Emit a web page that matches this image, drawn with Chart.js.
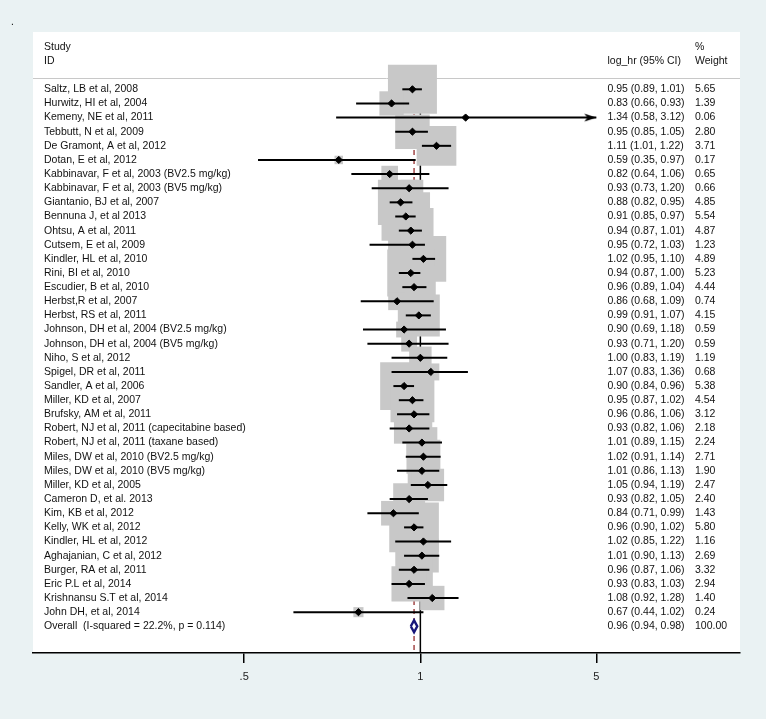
<!DOCTYPE html>
<html>
<head>
<meta charset="utf-8">
<title>Forest plot</title>
<script src="https://cdn.jsdelivr.net/npm/chart.js@4.4.1/dist/chart.umd.min.js"></script>
<style>
  html, body { margin: 0; padding: 0; overflow: hidden; background: #eaf2f3; }
  #wrap { position: relative; width: 766px; height: 719px; }
  #myChart { display: block; }
</style>
</head>
<body>
<div id="wrap"><canvas id="myChart"></canvas></div>
<script>
// STUDIES, top to bottom
const studies = [
  'Saltz, LB et al, 2008', 'Hurwitz, HI et al, 2004', 'Kemeny, NE et al, 2011',
  'Tebbutt, N et al, 2009', 'De Gramont, A et al, 2012', 'Dotan, E et al, 2012',
  'Kabbinavar, F et al, 2003 (BV2.5 mg/kg)', 'Kabbinavar, F et al, 2003 (BV5 mg/kg)',
  'Giantanio, BJ et al, 2007', 'Bennuna J, et al 2013', 'Ohtsu, A et al, 2011',
  'Cutsem, E et al, 2009', 'Kindler, HL et al, 2010', 'Rini, BI et al, 2010',
  'Escudier, B et al, 2010', 'Herbst,R et al, 2007', 'Herbst, RS et al, 2011',
  'Johnson, DH et al, 2004 (BV2.5 mg/kg)', 'Johnson, DH et al, 2004 (BV5 mg/kg)',
  'Niho, S et al, 2012', 'Spigel, DR et al, 2011', 'Sandler, A et al, 2006',
  'Miller, KD et al, 2007', 'Brufsky, AM et al, 2011',
  'Robert, NJ et al, 2011 (capecitabine based)', 'Robert, NJ et al, 2011 (taxane based)',
  'Miles, DW et al, 2010 (BV2.5 mg/kg)', 'Miles, DW et al, 2010 (BV5 mg/kg)',
  'Miller, KD et al, 2005', 'Cameron D, et al. 2013', 'Kim, KB et al, 2012',
  'Kelly, WK et al, 2012', 'Kindler, HL et al, 2012', 'Aghajanian, C et al, 2012',
  'Burger, RA et al, 2011', 'Eric P.L et al, 2014', 'Krishnansu S.T et al, 2014',
  'John DH, et al, 2014'
];
const hr = [0.95, 0.83, 1.34, 0.95, 1.11, 0.59, 0.82, 0.93, 0.88, 0.91, 0.94, 0.95, 1.02,
  0.94, 0.96, 0.86, 0.99, 0.90, 0.93, 1.00, 1.07, 0.90, 0.95, 0.96, 0.93, 1.01, 1.02, 1.01,
  1.05, 0.93, 0.84, 0.96, 1.02, 1.01, 0.96, 0.93, 1.08, 0.67];
const ciLow = [0.89, 0.66, 0.58, 0.85, 1.01, 0.35, 0.64, 0.73, 0.82, 0.85, 0.87, 0.72, 0.95,
  0.87, 0.89, 0.68, 0.91, 0.69, 0.71, 0.83, 0.83, 0.84, 0.87, 0.86, 0.82, 0.89, 0.91, 0.86,
  0.94, 0.82, 0.71, 0.90, 0.85, 0.90, 0.87, 0.83, 0.92, 0.44];
const ciHigh = [1.01, 0.93, 3.12, 1.05, 1.22, 0.97, 1.06, 1.20, 0.95, 0.97, 1.01, 1.03, 1.10,
  1.00, 1.04, 1.09, 1.07, 1.18, 1.20, 1.19, 1.36, 0.96, 1.02, 1.06, 1.06, 1.15, 1.14, 1.13,
  1.19, 1.05, 0.99, 1.02, 1.22, 1.13, 1.06, 1.03, 1.28, 1.02];
const weights = [5.65, 1.39, 0.06, 2.80, 3.71, 0.17, 0.65, 0.66, 4.85, 5.54, 4.87, 1.23, 4.89,
  5.23, 4.44, 0.74, 4.15, 0.59, 0.59, 1.19, 0.68, 5.38, 4.54, 3.12, 2.18, 2.24, 2.71, 1.90,
  2.47, 2.40, 1.43, 5.80, 1.16, 2.69, 3.32, 2.94, 1.40, 0.24];

// OVERALL
const overallLabel = 'Overall  (I-squared = 22.2%, p = 0.114)';
const overallHr = 0.96, overallLow = 0.94, overallHigh = 0.98, overallWeight = 100.00;

// X AXIS labels and where they sit on the hr scale
const tickLabels = ['.5', '1', '5'];
const tickAt = [0.32, 1, 3.12];

const FONT = '"Liberation Sans", Arial, sans-serif';
const ln = Math.log;
const nRows = studies.length;          // overall row index
const clipHigh = ln(tickAt[tickAt.length - 1]);
const rowTop = -0.8;                    // where the vertical lines start
const yMin = -4.055, yMax = 39.89;

// arrow head used when a CI runs past the axis, tip is at the image centre
const arrow = document.createElement('canvas');
arrow.width = 26; arrow.height = 11;
const actx = arrow.getContext('2d');
actx.fillStyle = '#000';
actx.beginPath();
actx.moveTo(13, 5.5); actx.lineTo(1, 1.5); actx.lineTo(4, 5.5); actx.lineTo(1, 9.5);
actx.closePath();
actx.fill();

const datasets = [];

// reference lines (null at 1, dashed at overall estimate)
datasets.push({
  type: 'line', order: 5, data: [{x: 0, y: rowTop}, {x: 0, y: yMax}],
  borderColor: '#000', borderWidth: 1.5, pointRadius: 0
});
datasets.push({
  type: 'line', order: 5, data: [{x: ln(overallHr), y: rowTop}, {x: ln(overallHr), y: yMax}],
  borderColor: '#8b1a1a', borderWidth: 1.2, borderDash: [5, 4], pointRadius: 0
});

// weight boxes (area ~ weight)
datasets.push({
  type: 'scatter', order: 4,
  data: hr.map((v, i) => ({x: ln(v), y: i})),
  pointStyle: 'rect',
  pointRadius: weights.map(w => 14.57 * Math.sqrt(w)),
  backgroundColor: '#c8c8c8', borderWidth: 0
});

// confidence intervals
hr.forEach((v, i) => {
  datasets.push({
    type: 'line', order: 3,
    data: [{x: ln(ciLow[i]), y: i}, {x: Math.min(ln(ciHigh[i]), clipHigh), y: i}],
    borderColor: '#000', borderWidth: 2, pointRadius: 0
  });
});

// arrows for clipped CIs
datasets.push({
  type: 'scatter', order: 2,
  data: hr.map((v, i) => ciHigh[i] >= tickAt[tickAt.length - 1] ? {x: clipHigh, y: i} : null)
    .filter(p => p),
  pointStyle: arrow, pointRadius: 6
});

// point estimates
datasets.push({
  type: 'scatter', order: 1,
  data: hr.map((v, i) => ({x: ln(v), y: i})),
  pointStyle: 'rectRot', pointRadius: 3.6,
  backgroundColor: '#000', borderColor: '#000', borderWidth: 1
});

// overall diamond
datasets.push({
  type: 'line', order: 0,
  data: [
    {x: ln(overallLow), y: nRows}, {x: ln(overallHr), y: nRows - 0.42},
    {x: ln(overallHigh), y: nRows}, {x: ln(overallHr), y: nRows + 0.42},
    {x: ln(overallLow), y: nRows}
  ],
  borderColor: '#16167a', borderWidth: 2.4, backgroundColor: '#fff',
  fill: 'shape', pointRadius: 0, tension: 0
});

//Text columns, header and white plot region.
const forestText = {
  id: 'forestText',
  beforeDraw(chart) {
    const ctx = chart.ctx, a = chart.chartArea;
    ctx.save();
    ctx.fillStyle = '#fff';
    ctx.fillRect(a.left, a.top, a.right - a.left, a.bottom - a.top);
    ctx.restore();
  },
  afterDatasetsDraw(chart) {
    const ctx = chart.ctx, a = chart.chartArea, y = chart.scales.y;
    ctx.save();
    ctx.fillStyle = '#000';
    ctx.font = '10px ' + FONT;
    ctx.textBaseline = 'middle';
    ctx.fillText('.', 11, 22);

    // separator under the header
    ctx.strokeStyle = '#c8c8c8';
    ctx.lineWidth = 1;
    ctx.beginPath();
    ctx.moveTo(a.left, Math.round(y.getPixelForValue(rowTop)) + 0.5);
    ctx.lineTo(a.right, Math.round(y.getPixelForValue(rowTop)) + 0.5);
    ctx.stroke();

    ctx.font = '10.5px ' + FONT;
    ctx.fillStyle = '#111';
    const colName = a.left + 11, colCi = 607.5, colW = 695;
    ctx.fillText('Study', colName, y.getPixelForValue(-3));
    ctx.fillText('ID', colName, y.getPixelForValue(-2));
    ctx.fillText('log_hr (95% CI)', colCi, y.getPixelForValue(-2));
    ctx.fillText('%', colW, y.getPixelForValue(-3));
    ctx.fillText('Weight', colW, y.getPixelForValue(-2));

    studies.forEach((s, i) => {
      const py = y.getPixelForValue(i);
      ctx.fillText(s, colName, py);
      ctx.fillText(hr[i].toFixed(2) + ' (' + ciLow[i].toFixed(2) + ', ' + ciHigh[i].toFixed(2) + ')', colCi, py);
      ctx.fillText(weights[i].toFixed(2), colW, py);
    });
    const oy = y.getPixelForValue(nRows);
    ctx.fillText(overallLabel, colName, oy);
    ctx.fillText(overallHr.toFixed(2) + ' (' + overallLow.toFixed(2) + ', ' + overallHigh.toFixed(2) + ')', colCi, oy);
    ctx.fillText(overallWeight.toFixed(2), colW, oy);
    ctx.restore();
  }
};

Chart.defaults.font.family = FONT;

const ctx = document.getElementById('myChart').getContext('2d');
const myChart = new Chart(ctx, {
  data: { datasets: datasets },
  options: {
    responsive: true,
    maintainAspectRatio: false,
    animation: false,
    events: [],
    layout: { autoPadding: false, padding: { left: 33, right: 26, top: 32, bottom: 0 } },
    scales: {
      x: {
        type: 'linear',
        min: -2.505,
        max: 2.067,
        afterBuildTicks: (scale) => {
          scale.ticks = tickAt.map(v => ({ value: ln(v) }));
        },
        afterFit: (scale) => { scale.height = 66; },
        ticks: {
          autoSkip: false,
          maxRotation: 0,
          padding: 7,
          color: '#222',
          font: { size: 11 },
          callback: (val, idx) => tickLabels[idx]
        },
        grid: {
          drawOnChartArea: false,
          tickLength: 10,
          color: '#000',
          lineWidth: 1.5
        },
        border: { display: true, color: '#000', width: 1.5 }
      },
      y: {
        type: 'linear',
        display: false,
        reverse: true,
        min: yMin,
        max: yMax
      }
    },
    plugins: {
      legend: { display: false },
      tooltip: { enabled: false }
    }
  },
  plugins: [forestText]
});
</script>
</body>
</html>
